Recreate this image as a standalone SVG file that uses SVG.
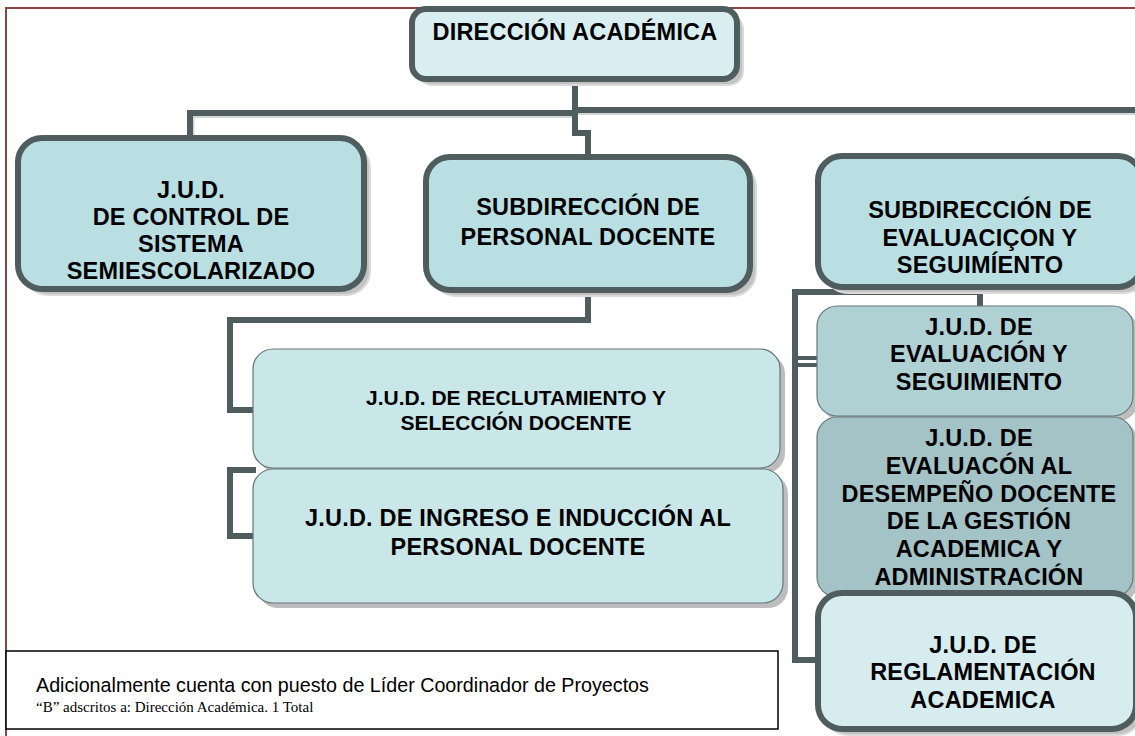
<svg xmlns="http://www.w3.org/2000/svg" width="1135" height="736" viewBox="0 0 1135 736">
<style>
.t{font-family:"Liberation Sans",Arial,sans-serif;font-weight:bold;font-size:23.5px;letter-spacing:0.2px;text-anchor:middle;fill:#000}
.ts{font-size:21px;letter-spacing:0px}
.thick{stroke:#4f5d5e;stroke-width:6}
.thin{stroke:#66797a;stroke-width:1.2}
.sh{fill:#c2c2c2;stroke:#dadada;stroke-width:2}
.conn{fill:none;stroke:#4f5d5e;stroke-width:6;stroke-linejoin:miter}
.connsh{fill:none;stroke:#d2d6d6;stroke-width:6}
</style>
<rect x="0" y="0" width="1135" height="736" fill="#ffffff"/>
<rect id="frame" x="6" y="8" width="1140" height="740" fill="none" stroke="#8b4444" stroke-width="2"/>
<g id="connectors">
  <g transform="translate(1.5,2)">
    <path class="connsh" d="M190,138 V113 H575 M575,110 H1140"/>
  </g>
  <path class="conn" d="M190,138 V113 H578"/>
  <path class="conn" d="M572,110 H1140"/>
  <path class="conn" d="M575,80 V133 H588 V157"/>
  <path class="conn" d="M588,290 V320 H230 V410 H256"/>
  <path class="conn" d="M256,470 H230 V536 H256"/>
  <path class="conn" d="M980,287 V308"/>
  <path class="conn" d="M980,292 H795 V660 H818"/>
  <path fill="none" stroke="#4f5d5e" stroke-width="4" d="M795,358 H818 M795,365 H818"/>
</g>
<g id="n-dir">
  <rect class="sh" x="418" y="15" width="325" height="70" rx="14"/>
  <rect class="thick" x="412" y="9" width="325" height="70" rx="14" fill="#d9eef0"/>
  <text class="t" x="575" y="40">DIRECCIÓN ACADÉMICA</text>
</g>
<g id="n-control">
  <rect class="sh" x="24" y="144" width="346" height="151" rx="24"/>
  <rect class="thick" x="18" y="138" width="346" height="151" rx="24" fill="#b9dfe2"/>
  <text class="t" x="191" y="198">J.U.D.</text>
  <text class="t" x="191" y="225">DE CONTROL DE</text>
  <text class="t" x="191" y="252">SISTEMA</text>
  <text class="t" x="191" y="279">SEMIESCOLARIZADO</text>
</g>
<g id="n-subpersonal">
  <rect class="sh" x="432" y="163" width="324" height="133" rx="24"/>
  <rect class="thick" x="426" y="157" width="324" height="133" rx="24" fill="#b9dfe2"/>
  <text class="t" x="588" y="215">SUBDIRECCIÓN DE</text>
  <text class="t" x="588" y="245">PERSONAL DOCENTE</text>
</g>
<g id="n-subeval">
  <rect class="sh" x="824" y="162" width="324" height="131" rx="24"/>
  <rect class="thick" x="818" y="156" width="324" height="131" rx="24" fill="#b9dfe2"/>
  <text class="t" x="980" y="218">SUBDIRECCIÓN DE</text>
  <text class="t" x="980" y="246">EVALUACIÇON Y</text>
  <text class="t" x="980" y="273">SEGUIMÍENTO</text>
</g>
<g id="n-reclut">
  <rect fill="#bdbdbd" x="258" y="354" width="527" height="119" rx="20"/>
  <rect class="thin" x="253" y="349" width="527" height="119" rx="20" fill="#c9e7e9"/>
  <text class="t ts" x="516" y="405">J.U.D. DE RECLUTAMIENTO Y</text>
  <text class="t ts" x="516" y="430">SELECCIÓN DOCENTE</text>
</g>
<g id="n-ingreso">
  <rect fill="#bdbdbd" x="258" y="474" width="530" height="134" rx="20"/>
  <rect class="thin" x="253" y="469" width="530" height="134" rx="20" fill="#c9e7e9"/>
  <text class="t" x="518" y="526">J.U.D. DE INGRESO E INDUCCIÓN AL</text>
  <text class="t" x="518" y="555">PERSONAL DOCENTE</text>
</g>
<g id="n-jud-eval">
  <rect fill="#bdbdbd" x="822" y="311" width="316" height="110" rx="20"/>
  <rect class="thin" x="817" y="306" width="316" height="110" rx="20" fill="#b0d1d4"/>
  <text class="t" x="979" y="335">J.U.D. DE</text>
  <text class="t" x="979" y="362">EVALUACIÓN Y</text>
  <text class="t" x="979" y="390">SEGUIMIENTO</text>
</g>
<g id="n-jud-desempeno">
  <rect fill="#bdbdbd" x="822" y="422" width="316" height="180" rx="20"/>
  <rect class="thin" x="817" y="417" width="316" height="180" rx="20" fill="#a3c3c6"/>
  <text class="t" x="979" y="446">J.U.D. DE</text>
  <text class="t" x="979" y="474">EVALUACÓN AL</text>
  <text class="t" x="979" y="502">DESEMPEÑO DOCENTE</text>
  <text class="t" x="979" y="529">DE LA GESTIÓN</text>
  <text class="t" x="979" y="557">ACADEMICA Y</text>
  <text class="t" x="979" y="585">ADMINISTRACIÓN</text>
</g>
<g id="n-reglamentacion">
  <rect class="sh" x="824" y="599" width="318" height="136" rx="24"/>
  <rect class="thick" x="818" y="593" width="318" height="136" rx="24" fill="#d6ecee"/>
  <text class="t" x="983" y="653">J.U.D. DE</text>
  <text class="t" x="983" y="680">REGLAMENTACIÓN</text>
  <text class="t" x="983" y="708">ACADEMICA</text>
</g>
<g id="note">
  <rect x="6" y="651" width="772" height="78" fill="#ffffff" stroke="#000" stroke-width="1.5"/>
  <text x="36" y="692" font-family="Liberation Sans, Arial, sans-serif" font-size="19.7" fill="#000">Adicionalmente cuenta con puesto de Líder Coordinador de Proyectos</text>
  <text x="36" y="712" font-family="Liberation Serif, Times New Roman, serif" font-size="15" fill="#000">“B” adscritos a: Dirección Académica. 1 Total</text>
</g>
</svg>
